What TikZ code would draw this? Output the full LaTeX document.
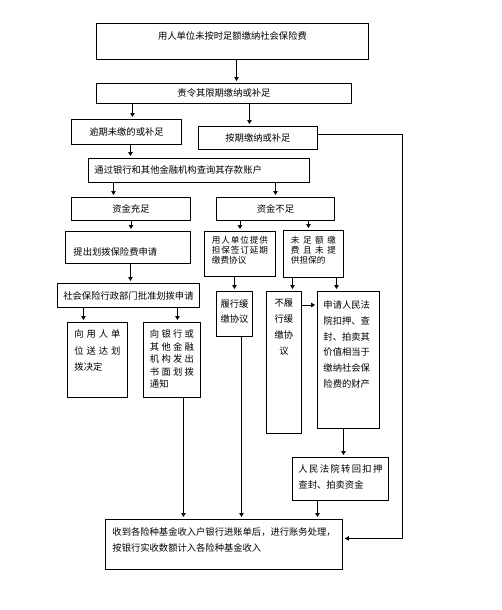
\documentclass[tikz,border=0pt]{standalone}
\usepackage{fontspec}
\usepackage{tikz}
\usetikzlibrary{arrows.meta,calc}
\newfontfamily\cjk{Noto Sans CJK SC}
\newcommand{\fz}[2]{\fontsize{#1}{#2}\selectfont}
\newcommand{\spr}[1]{\makebox[\linewidth][s]{\spaceskip=0pt plus 1fil\relax #1}}
\tikzset{
  box/.style={draw, line width=0.9pt, anchor=north west, inner sep=0pt, font=\cjk\fz{9.3pt}{12pt}},
  vfit/.style 2 args={inner ysep=0pt, text height=#1, text depth=#2},
  arr/.style={-{Triangle[length=4pt,width=4.5pt]}, line width=0.7pt, shorten >=2pt}
}
\begin{document}
\begin{tikzpicture}[x=1pt,y=-1pt]
\useasboundingbox (0,0) rectangle (501,610);
\node[box, minimum width=272pt, minimum height=36pt, vfit={16.4pt}{19.6pt}] (b1) at (96,23) {用人单位未按时足额缴纳社会保险费};
\node[box, minimum width=255pt, minimum height=20pt] (b2) at (96,83) {责令其限期缴纳或补足};
\node[box, minimum width=110pt, minimum height=25pt] (b3) at (71,119) {逾期未缴的或补足};
\node[box, minimum width=119pt, minimum height=23pt] (b4) at (198,126) {按期缴纳或补足};
\node[box, text width=209pt, inner xsep=6pt, minimum height=24pt, align=left] (b5) at (88,158) {通过银行和其他金融机构查询其存款账户};
\node[box, minimum width=119pt, minimum height=23pt] (b6) at (71,197) {资金充足};
\node[box, minimum width=118pt, minimum height=23pt] (b7) at (216,197) {资金不足};
\node[box, text width=109pt, inner xsep=8pt, align=left, vfit={24.4pt}{7.6pt}] (b8) at (65,231) {提出划拨保险费申请};
\node[box, minimum width=142pt, minimum height=24pt] (b9) at (57,283) {社会保险行政部门批准划拨申请};
\node[box, text width=46pt, inner xsep=7pt, align=left, vfit={15.4pt}{59.6pt}, font=\cjk\fz{9.3pt}{16.5pt}] (b10) at (67,322) {\spr{向 用 人 单}\\ \spr{位 送 达 划}\\ 拨决定};
\node[box, text width=44pt, inner xsep=6.5pt, align=left, vfit={15.4pt}{59.6pt}, font=\cjk\fz{9.3pt}{12.5pt}] (b11) at (143,322) {\spr{向 银 行 或}\\ \spr{其 他 金 融}\\ \spr{机 构 发 出}\\ \spr{书 面 划 拨}\\ 通知};
\node[box, text width=56pt, inner xsep=7.5pt, align=left, vfit={12.5pt}{32.5pt}, font=\cjk\fz{8.6pt}{10pt}] (bA) at (204,231) {\spr{用 人 单 位 提 供}\\ \spr{担 保 签 订 延 期}\\ 缴费协议};
\node[box, text width=45pt, inner xsep=7.5pt, align=left, vfit={13pt}{34pt}, font=\cjk\fz{8.6pt}{9.8pt}] (bB) at (283,230) {\spr{未 足 额 缴}\\ \spr{费 且 未 提}\\ 供担保的};
\node[box, text width=30pt, inner xsep=3pt, align=center, vfit={16pt}{29pt}, font=\cjk\fz{9.3pt}{15.5pt}] (bL) at (216,291) {履行缓\\ 缴协议};
\node[box, text width=29pt, inner xsep=3pt, align=center, vfit={15.5pt}{126.5pt}, font=\cjk\fz{9.3pt}{15.7pt}] (bN) at (266,291) {不履\\ 行缓\\ 缴协\\ 议};
\node[box, text width=50pt, inner xsep=6pt, align=left, vfit={17.4pt}{119.6pt}, font=\cjk\fz{9.3pt}{15.7pt}] (bC) at (317,291) {申请人民法\\ 院扣押、查\\ 封、拍卖其\\ 价值相当于\\ 缴纳社会保\\ 险费的财产};
\node[box, text width=84pt, inner xsep=6pt, align=left, vfit={15.4pt}{27.6pt}, font=\cjk\fz{9.3pt}{16pt}] (bD) at (292,457) {\spr{人 民 法 院 转 回 扣 押}\\ 查封、拍卖资金};
\node[box, text width=223pt, inner xsep=7pt, align=left, vfit={16.4pt}{33.6pt}, font=\cjk\fz{9.3pt}{16pt}] (bE) at (105,519) {收到各险种基金收入户银行进账单后，进行账务处理，\\ 按银行实收数额计入各险种基金收入};
\coordinate (rt) at (402,0);
\draw[arr] ([xshift=4pt]b1.south) -- ([xshift=4pt]b1.south |- b2.north);
\draw[arr] ([xshift=6pt]b3.north |- b2.south) -- ([xshift=6pt]b3.north);
\draw[arr] ([xshift=-8.5pt]b4.north |- b2.south) -- ([xshift=-8.5pt]b4.north);
\draw[arr] ([xshift=4pt]b3.south) -- ([xshift=4pt]b3.south |- b5.north);
\draw[arr] ([xshift=-17.5pt]b6.north |- b5.south) -- ([xshift=-17.5pt]b6.north);
\draw[arr] (b7.north |- b5.south) -- (b7.north);
\draw[arr] (b6.south) -- (b6.south |- b8.north);
\draw[arr] ([xshift=2.5pt]b8.south) -- ([xshift=2.5pt]b8.south |- b9.north);
\draw[arr] ([xshift=-14pt]b10.north |- b9.south) -- ([xshift=-14pt]b10.north);
\draw[arr] ([xshift=5.5pt]b11.north |- b9.south) -- ([xshift=5.5pt]b11.north);
\draw[arr] ([xshift=11.5pt]b11.south) -- ([xshift=11.5pt]b11.south |- bE.north);
\draw[arr] (bA.north |- b7.south) -- (bA.north);
\draw[arr] ([xshift=-5pt]bB.north |- b7.south) -- ([xshift=-5pt]bB.north);
\draw[arr] (bL.north |- bA.south) -- (bL.north);
\draw[arr] ([xshift=7pt]bL.south) -- ([xshift=7pt]bL.south |- bE.north);
\draw[arr] ([xshift=8.5pt]bN.north |- bB.south) -- ([xshift=8.5pt]bN.north);
\draw[arr] ([xshift=-12pt]bC.north |- bB.south) -- ([xshift=-12pt]bC.north);
\draw[arr] ([yshift=-14pt]bN.north east) -- ([yshift=-14pt]bN.north east -| bC.west);
\draw[arr] ([xshift=3pt]bD.north |- bC.south) -- ([xshift=3pt]bD.north);
\draw[arr] ([xshift=-23pt]bD.south) -- ([xshift=-23pt]bD.south |- bE.north);
\draw[arr] ([yshift=3.5pt]b4.east) -- ([yshift=3.5pt]b4.east -| rt) |- ([yshift=6pt]bE.east);
\end{tikzpicture}
\end{document}
